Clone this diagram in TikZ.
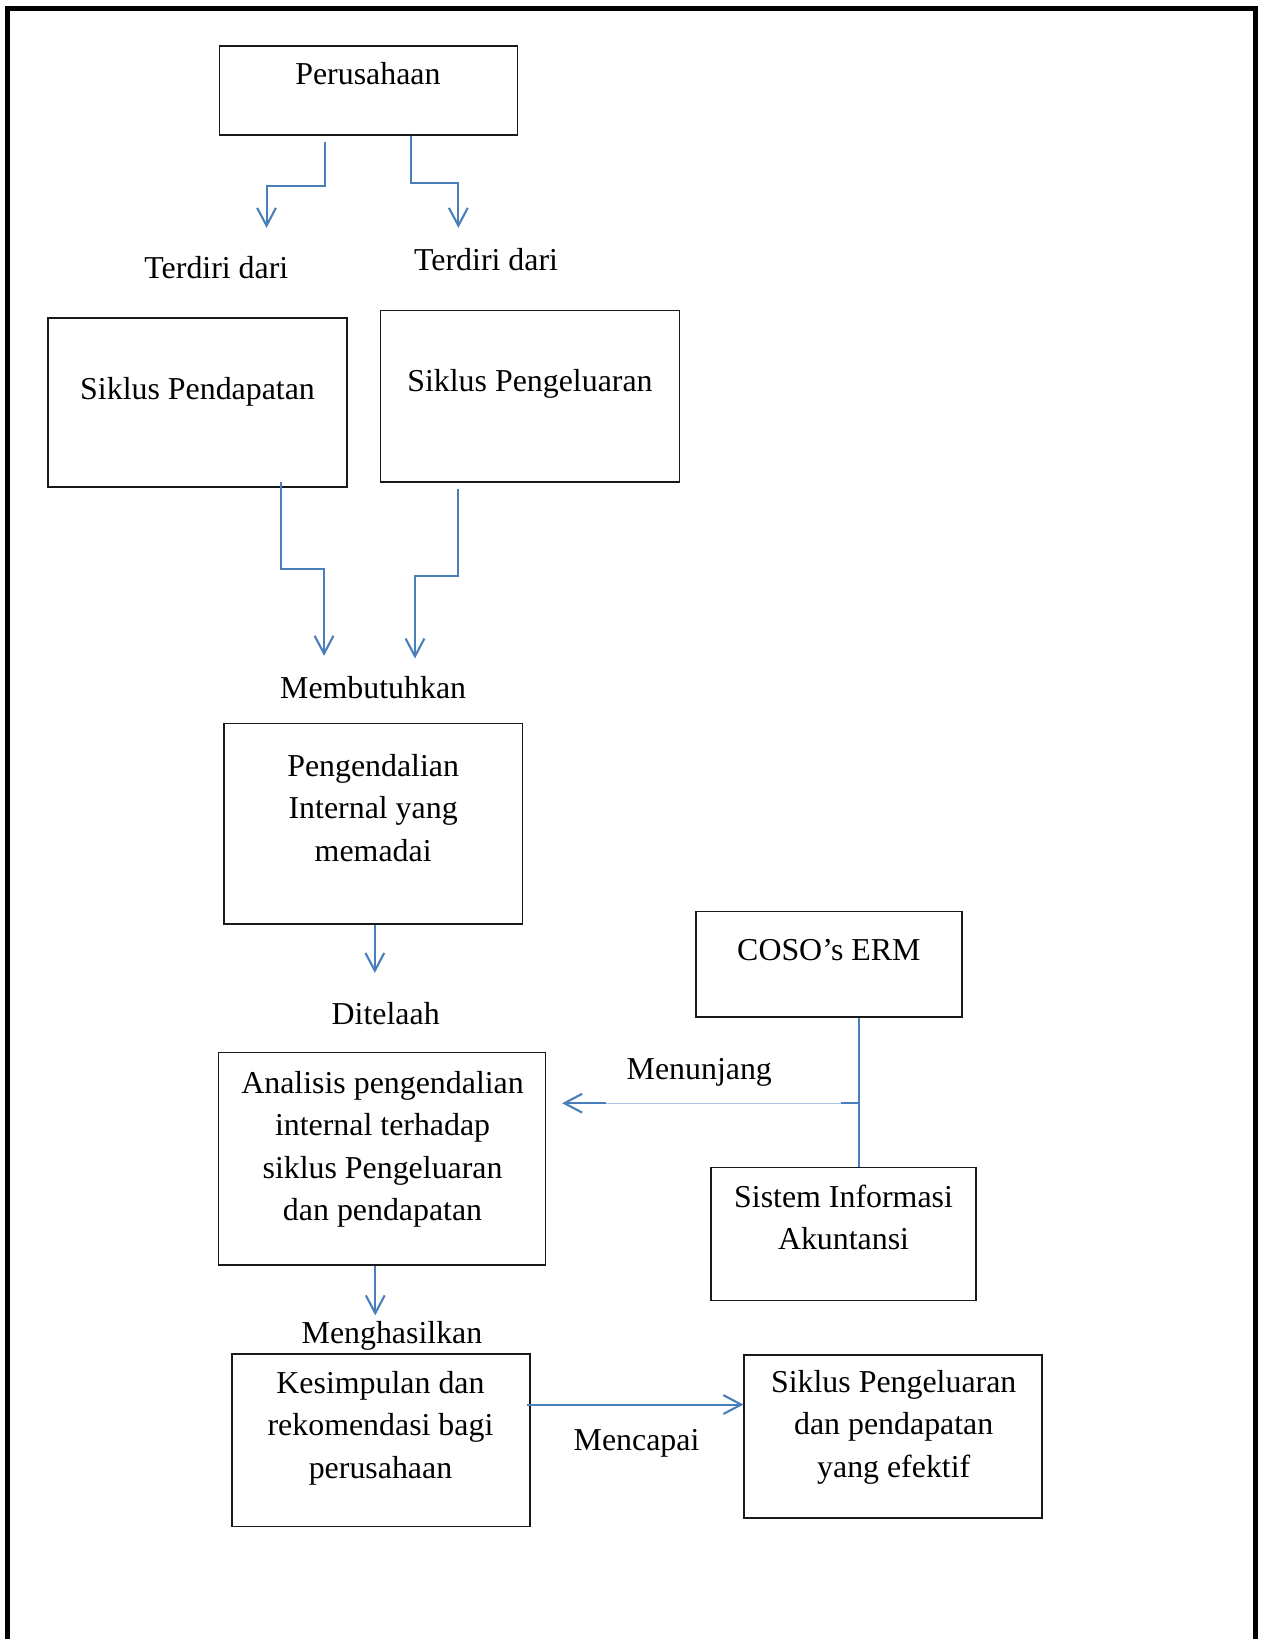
\documentclass[tikz,border=0pt]{standalone}
\usepackage{fontspec}
\setmainfont{Liberation Serif}
\usetikzlibrary{arrows.meta}
\definecolor{arrowblue}{HTML}{4A7EBB}
\definecolor{lightblue}{HTML}{A9C4E6}
\begin{document}
\begin{tikzpicture}[x=1pt,y=-1pt,
  box/.style={draw=black!90, line width=1.6pt, rectangle, inner sep=0pt},
  txt/.style={font=\fontsize{30.5}{40.5}\selectfont, align=center, anchor=base, inner sep=0pt},
  flowline/.style={draw=arrowblue, line width=2pt},
  flow/.style={flowline, -{Straight Barb[length=17pt,width=18pt]}},
  thinflow/.style={draw=lightblue, line width=0.8pt}]
\useasboundingbox (0,0) rectangle (1207,1568);
% outer frame
\draw[line width=4.5pt] (7.5,1570) -- (7.5,8) -- (1201,8) -- (1201,1570);

% boxes
\node[box, minimum width=285pt, minimum height=85pt]  (perus) at (352.5,86.5) {};
\node[box, minimum width=286pt, minimum height=162pt] (pend)  at (189,385) {};
\node[box, minimum width=286pt, minimum height=164pt] (peng)  at (507,379) {};
\node[box, minimum width=286pt, minimum height=192pt] (pi)    at (357,788) {};
\node[box, minimum width=313pt, minimum height=203pt] (anal)  at (365.5,1108.5) {};
\node[box, minimum width=254pt, minimum height=101pt] (coso)  at (793,922.5) {};
\node[box, minimum width=254pt, minimum height=127pt] (sia)   at (807,1180.5) {};
\node[box, minimum width=285pt, minimum height=165pt] (kes)   at (364.5,1378) {};
\node[box, minimum width=285pt, minimum height=156pt] (eff)   at (854.5,1374) {};

% box texts (base anchor = baseline of last line)
\node[txt] (tperus) at (352,81) {Perusahaan};
\node[txt] (tpend)  at (189,382) {Siklus Pendapatan};
\node[txt] (tpeng)  at (507,374.5) {Siklus Pengeluaran};
\node[txt] (tpi)    at (357,824) {Pengendalian\\Internal yang\\memadai};
\node[txt] (tanal)  at (366,1167.5) {Analisis pengendalian\\internal terhadap\\siklus Pengeluaran\\dan pendapatan};
\node[txt] (tcoso)  at (793,919) {COSO’s ERM};
\node[txt] (tsia)   at (807,1195.5) {Sistem Informasi\\Akuntansi};
\node[txt] (tkes)   at (364,1414) {Kesimpulan dan\\rekomendasi bagi\\perusahaan};
\node[txt] (teff)   at (855,1413) {Siklus Pengeluaran\\dan pendapatan\\yang efektif};

% connector labels
\node[txt] (lterd1) at (207,266.5) {Terdiri dari};
\node[txt] (lterd2) at (465,259) {Terdiri dari};
\node[txt] (lmemb)  at (357,668) {Membutuhkan};
\node[txt] (ldite)  at (369,980.5) {Ditelaah};
\node[txt] (lmenu)  at (669,1033) {Menunjang};
\node[txt] (lmeng)  at (375,1285) {Menghasilkan};
\node[txt] (lmenc)  at (609,1387.5) {Mencapai};

% arrow end points
\coordinate (ea) at (255,218);
\coordinate (eb) at (438.5,218);
\coordinate (ec) at (310,627.4);
\coordinate (ed) at (397,630);

% arrows from Perusahaan
\draw[flow] ([xshift=-41.5pt,yshift=-6pt]perus.south) -- ++(0,42) -| (ea);
\draw[flow] ([xshift=40.5pt]perus.south) -- ++(0,45) -| (eb);
% arrows to Membutuhkan
\draw[flow] ([xshift=80pt,yshift=6pt]pend.south) -- ++(0,83.5) -| (ec);
\draw[flow] ([xshift=-68.7pt,yshift=-6pt]peng.south) -- ++(0,83) -| (ed);
% vertical arrows
\draw[flow] ([xshift=1.6pt]pi.south) -- ++(0,46);
\draw[flow] ([xshift=-6.5pt]anal.south) -- ++(0,47.6);
% Mencapai
\draw[flow] ([xshift=-3.6pt,yshift=34.3pt]kes.east) coordinate (g0) -- (g0 -| eff.west);
% COSO - SIA
\draw[flowline] ([xshift=29pt]coso.south) -- ([xshift=29pt]coso.south |- sia.north);
\path ([xshift=29pt]coso.south) ++(0,81.6) coordinate (j);
\path (anal.east |- j) ++(15,0) coordinate (mtip);
\draw[flowline] (j) -- ++(-17.6,0) coordinate (m1);
\draw[thinflow] (m1) -- ++(-224.3,0) coordinate (m2);
\draw[flow] (m2) -- (mtip);
\end{tikzpicture}
\end{document}
